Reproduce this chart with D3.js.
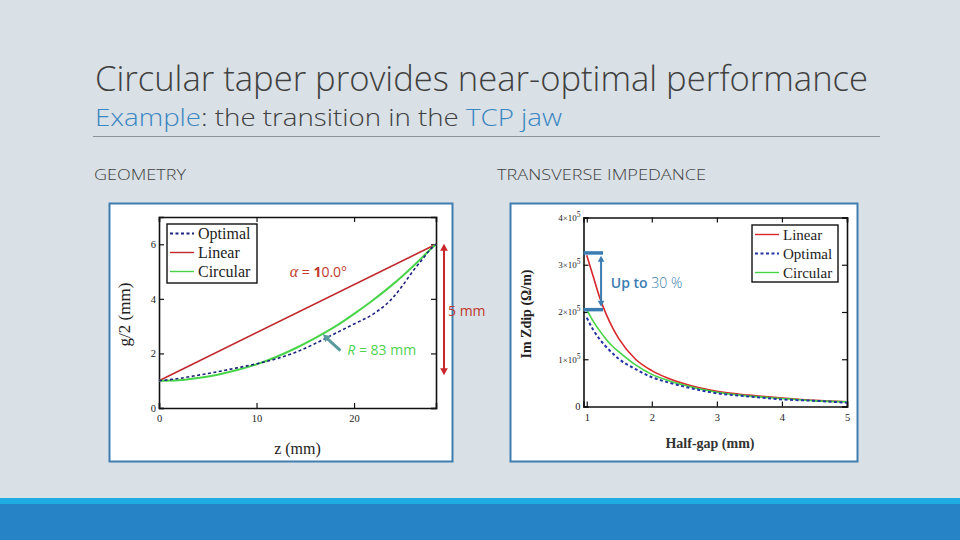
<!DOCTYPE html>
<html>
<head>
<meta charset="utf-8">
<script src="https://cdn.jsdelivr.net/npm/d3@7"></script>
<style>
  body { margin: 0; background: #d9e0e6; }
  svg { display: block; }
</style>
</head>
<body>
<svg id="chart" width="960" height="540"></svg>
<script>
// geometry panel: half-gap profile g/2 (mm) along z (mm)
const geoZ       = [0, 2, 4, 6, 8, 10, 12, 14, 16, 18, 20, 22, 24, 25, 26, 27, 28, 28.4];
const geoOptimal = [1.0, 1.08, 1.2, 1.33, 1.47, 1.62, 1.8, 2.04, 2.36, 2.72, 3.08, 3.45, 4.05, 4.5, 5.0, 5.45, 5.88, 6.0];
const geoCircZ   = [0, 2, 4, 6, 8, 10, 12, 14, 16, 18, 20, 22, 24, 26, 28, 28.4];
const geoCircular= [1.0, 1.02, 1.1, 1.22, 1.39, 1.6, 1.87, 2.19, 2.56, 2.97, 3.45, 3.97, 4.54, 5.18, 5.87, 6.0];
const geoLinZ    = [0, 28.4];
const geoLinear  = [1.0, 6.0];
const geoXTicks  = [0, 10, 20];
const geoYTicks  = [0, 2, 4, 6];

// impedance panel: Im Zdip (Ohm/m) vs half-gap (mm)
const gap        = [1.0, 1.1, 1.2, 1.3, 1.4, 1.5, 1.75, 2.0, 2.25, 2.5, 3.0, 3.5, 4.0, 4.5, 5.0];
const impLinear  = [3.2e5, 2.75e5, 2.3e5, 1.95e5, 1.66e5, 1.42e5, 1.0e5, 0.76e5, 0.6e5, 0.48e5, 0.32e5, 0.24e5, 0.18e5, 0.13e5, 0.1e5];
const impOptimal = [1.88e5, 1.62e5, 1.42e5, 1.26e5, 1.12e5, 1.0e5, 0.79e5, 0.62e5, 0.51e5, 0.42e5, 0.28e5, 0.21e5, 0.15e5, 0.12e5, 0.08e5];
const impCircular= [2.05e5, 1.8e5, 1.6e5, 1.42e5, 1.27e5, 1.15e5, 0.88e5, 0.68e5, 0.55e5, 0.45e5, 0.3e5, 0.22e5, 0.17e5, 0.12e5, 0.1e5];
const impXTicks  = [1, 2, 3, 4, 5];
const impYTicks  = [0, 1e5, 2e5, 3e5, 4e5];

const svg = d3.select('#chart');
const sans = "'Open Sans', 'Noto Sans', sans-serif";
const serif = "'Liberation Serif', 'DejaVu Serif', serif";
const grey = '#404040';
const blue = '#3a86c2';

svg.append('rect').attr('width', 960).attr('height', 540).attr('fill', '#d9e0e6');

// header
svg.append('text')
    .attr('x', 95).attr('y', 91)
    .attr('font-family', sans).attr('font-weight', 300).attr('font-size', 34)
    .attr('fill', grey)
    .attr('textLength', 773).attr('lengthAdjust', 'spacingAndGlyphs')
    .text('Circular taper provides near-optimal performance');

const sub = svg.append('text')
    .attr('x', 95).attr('y', 126)
    .attr('font-family', sans).attr('font-weight', 300).attr('font-size', 24)
    .attr('fill', grey)
    .attr('textLength', 467).attr('lengthAdjust', 'spacingAndGlyphs');
sub.append('tspan').attr('fill', blue).text('Example');
sub.append('tspan').text(': the transition in the ');
sub.append('tspan').attr('fill', blue).text('TCP jaw');

svg.append('line')
    .attr('x1', 93).attr('x2', 880).attr('y1', 136.5).attr('y2', 136.5)
    .attr('stroke', '#8c9399').attr('stroke-width', 1);

svg.append('text').attr('x', 94).attr('y', 180)
    .attr('font-family', sans).attr('font-weight', 300).attr('font-size', 15).attr('fill', grey)
    .attr('textLength', 92).attr('lengthAdjust', 'spacingAndGlyphs')
    .text('GEOMETRY');
svg.append('text').attr('x', 497).attr('y', 180)
    .attr('font-family', sans).attr('font-weight', 300).attr('font-size', 15).attr('fill', grey)
    .attr('textLength', 209).attr('lengthAdjust', 'spacingAndGlyphs')
    .text('TRANSVERSE IMPEDANCE');

// bottom band
svg.append('rect').attr('x', 0).attr('y', 498).attr('width', 960).attr('height', 7).attr('fill', '#1eace2');
svg.append('rect').attr('x', 0).attr('y', 504).attr('width', 960).attr('height', 36).attr('fill', '#2683c6');

// panels
svg.append('rect').attr('x', 109.5).attr('y', 203.5).attr('width', 343).attr('height', 258)
    .attr('fill', '#fff').attr('stroke', '#3f7db0').attr('stroke-width', 2);
svg.append('rect').attr('x', 510.5).attr('y', 203.5).attr('width', 347).attr('height', 258)
    .attr('fill', '#fff').attr('stroke', '#3f7db0').attr('stroke-width', 2);

function frame(g, x, y, xTicks, yTicks, xFmt, yFmt) {
  const [x0, x1] = x.range();
  const [y0, y1] = y.range();
  g.append('g').attr('class', 'x-bottom').attr('transform', `translate(0,${y0})`)
      .call(d3.axisBottom(x).tickValues(xTicks).tickSize(-5).tickPadding(7).tickFormat(xFmt));
  g.append('g').attr('transform', `translate(0,${y1})`)
      .call(d3.axisTop(x).tickValues(xTicks).tickSize(-5).tickFormat(''));
  g.append('g').attr('class', 'y-left').attr('transform', `translate(${x0},0)`)
      .call(d3.axisLeft(y).tickValues(yTicks).tickSize(-5).tickPadding(3).tickFormat(yFmt));
  g.append('g').attr('transform', `translate(${x1},0)`)
      .call(d3.axisRight(y).tickValues(yTicks).tickSize(-5).tickFormat(''));
  g.selectAll('.domain').attr('stroke', '#111').attr('stroke-width', 1.6);
  g.selectAll('.tick line').attr('stroke', '#111').attr('stroke-width', 1.2);
  g.selectAll('.tick text').attr('font-family', serif).attr('font-size', 10.5).attr('fill', '#222');
}

function legend(g, x, y, w, h, fontSize, items) {
  g.append('rect').attr('x', x).attr('y', y).attr('width', w).attr('height', h)
      .attr('fill', '#fff').attr('stroke', '#111').attr('stroke-width', 1.4);
  items.forEach((it, i) => {
    const cy = y + 9.5 + i * 19;
    g.append('line').attr('x1', x + 3).attr('x2', x + 27).attr('y1', cy).attr('y2', cy)
        .attr('stroke', it.color).attr('stroke-width', it.dash ? 2.2 : 1.4)
        .attr('stroke-dasharray', it.dash || null);
    g.append('text').attr('x', x + 31).attr('y', cy + 5)
        .attr('font-family', serif).attr('font-size', fontSize).attr('fill', '#222')
        .text(it.name);
  });
}

function arrowHead(g, x, y, angle, color, size) {
  g.append('path')
      .attr('d', `M0,0L${-size},${-size * 0.55}L${-size},${size * 0.55}Z`)
      .attr('transform', `translate(${x},${y}) rotate(${angle})`)
      .attr('fill', color);
}

// ---------- geometry ----------
const gx = d3.scaleLinear([0, 28.4], [159, 436]);
const gy = d3.scaleLinear([0, 7], [408, 217]);
const geo = svg.append('g');
frame(geo, gx, gy, geoXTicks, geoYTicks, d3.format('d'), d3.format('d'));

const gline = d3.line().x(d => gx(d[0])).y(d => gy(d[1])).curve(d3.curveMonotoneX);
const navy = '#1d237e', dred = '#c0282d', green = '#48d448';

geo.append('path').datum(d3.zip(geoLinZ, geoLinear)).attr('d', gline)
    .attr('fill', 'none').attr('stroke', dred).attr('stroke-width', 1.6);
geo.append('path').datum(d3.zip(geoCircZ, geoCircular)).attr('d', gline)
    .attr('fill', 'none').attr('stroke', green).attr('stroke-width', 2);
geo.append('path').datum(d3.zip(geoZ, geoOptimal)).attr('d', gline)
    .attr('fill', 'none').attr('stroke', navy).attr('stroke-width', 1.6).attr('stroke-dasharray', '3,2.5');

legend(geo, 167, 224, 90, 59, 16, [
  { name: 'Optimal', color: navy, dash: '3,2.5' },
  { name: 'Linear', color: dred },
  { name: 'Circular', color: green }
]);

const gyMid = (gy.range()[0] + gy.range()[1]) / 2 + 2;
geo.append('text').attr('x', 130).attr('y', gyMid)
    .attr('transform', `rotate(-90,130,${gyMid})`)
    .attr('text-anchor', 'middle')
    .attr('font-family', serif).attr('font-size', 17).attr('fill', '#222')
    .text('g/2 (mm)');
geo.append('text').attr('x', (gx.range()[0] + gx.range()[1]) / 2).attr('y', 454)
    .attr('text-anchor', 'middle')
    .attr('font-family', serif).attr('font-size', 16).attr('fill', '#222')
    .text('z (mm)');

// annotations
const alpha = geo.append('text').attr('x', gx(13.4)).attr('y', gy(4.8))
    .attr('font-family', sans).attr('font-size', 14).attr('fill', '#c0392b');
alpha.append('tspan').attr('font-family', serif).attr('font-style', 'italic').attr('font-size', 16).text('α');
alpha.append('tspan').text(' = ');
alpha.append('tspan').attr('font-weight', 'bold').text('1');
alpha.append('tspan').text('0.0°');

const rTxt = geo.append('text').attr('x', gx(19.3)).attr('y', gy(1.94))
    .attr('font-family', sans).attr('font-size', 14).attr('fill', '#4fd24f');
rTxt.append('tspan').attr('font-style', 'italic').text('R');
rTxt.append('tspan').text(' = 83 mm');

const teal = '#5a9a9e';
geo.append('line').attr('x1', gx(18.6)).attr('y1', gy(2.1)).attr('x2', gx(17.2)).attr('y2', gy(2.56))
    .attr('stroke', teal).attr('stroke-width', 3);
arrowHead(geo, gx(16.8), gy(2.7), Math.atan2(gy(2.7) - gy(2.1), gx(16.8) - gx(18.6)) * 180 / Math.PI, teal, 7);

const ax5 = gx(28.4) + 8;
geo.append('line').attr('x1', ax5).attr('x2', ax5).attr('y1', gy(5.85)).attr('y2', gy(1.35))
    .attr('stroke', '#c8282d').attr('stroke-width', 2);
arrowHead(geo, ax5, gy(6.02), -90, '#c8282d', 7);
arrowHead(geo, ax5, gy(1.2), 90, '#c8282d', 7);

// ---------- impedance ----------
const ix = d3.scaleLinear([0.95, 5], [583.5, 847]);
const iy = d3.scaleLinear([0, 4e5], [406.5, 217.5]);
const imp = svg.append('g');
frame(imp, ix, iy, impXTicks, impYTicks, d3.format('d'), d => d === 0 ? '0' : '');

imp.selectAll('.y-left .tick text').filter(d => d > 0)
    .attr('font-size', 9)
    .each(function(d) {
      const t = d3.select(this);
      t.append('tspan').text(`${d / 1e5}×10`);
      t.append('tspan').attr('dy', -4).attr('font-size', 7.5).text('5');
    });

const iline = d3.line().x(d => ix(d[0])).y(d => iy(d[1])).curve(d3.curveMonotoneX);
const red = '#d9262a', ngreen = '#44d444', oblue = '#2434a6';

imp.append('path').datum(d3.zip(gap, impLinear)).attr('d', iline)
    .attr('fill', 'none').attr('stroke', red).attr('stroke-width', 1.6);
imp.append('path').datum(d3.zip(gap, impCircular)).attr('d', iline)
    .attr('fill', 'none').attr('stroke', ngreen).attr('stroke-width', 1.6);
imp.append('path').datum(d3.zip(gap, impOptimal)).attr('d', iline)
    .attr('fill', 'none').attr('stroke', oblue).attr('stroke-width', 2).attr('stroke-dasharray', '3,2.5');

legend(imp, 752, 225, 86, 57, 15, [
  { name: 'Linear', color: red },
  { name: 'Optimal', color: oblue, dash: '3,2.5' },
  { name: 'Circular', color: ngreen }
]);

const iyMid = (iy.range()[0] + iy.range()[1]) / 2 + 2;
imp.append('text').attr('x', 531).attr('y', iyMid)
    .attr('transform', `rotate(-90,531,${iyMid})`)
    .attr('text-anchor', 'middle')
    .attr('font-family', serif).attr('font-weight', 'bold').attr('font-size', 14).attr('fill', '#222')
    .text('Im Zdip (Ω/m)');
imp.append('text').attr('x', 710).attr('y', 448)
    .attr('text-anchor', 'middle')
    .attr('font-family', serif).attr('font-weight', 'bold').attr('font-size', 14).attr('fill', '#333')
    .text('Half-gap (mm)');

// "Up to 30 %" annotation
const sblue = '#3b7db2';
[3.25e5, 2.05e5].forEach(v => {
  imp.append('line').attr('x1', ix(0.95)).attr('x2', ix(1.25)).attr('y1', iy(v)).attr('y2', iy(v))
      .attr('stroke', sblue).attr('stroke-width', 3.5);
});
const axU = ix(1.22);
imp.append('line').attr('x1', axU).attr('x2', axU).attr('y1', iy(3.08e5)).attr('y2', iy(2.22e5))
    .attr('stroke', sblue).attr('stroke-width', 2);
arrowHead(imp, axU, iy(3.19e5), -90, sblue, 6);
arrowHead(imp, axU, iy(2.11e5), 90, sblue, 6);

const up = imp.append('text').attr('x', ix(1.37)).attr('y', iy(2.5e5))
    .attr('font-family', sans).attr('font-size', 14).attr('fill', sblue);
up.append('tspan').attr('font-weight', 600).text('Up to ');
up.append('tspan').attr('font-weight', 300).text('30 %');

// "5 mm" label drawn over the panel border
svg.append('text').attr('x', 448).attr('y', 316)
    .attr('font-family', sans).attr('font-size', 14).attr('fill', '#c0392b')
    .text('5 mm');
</script>
</body>
</html>
